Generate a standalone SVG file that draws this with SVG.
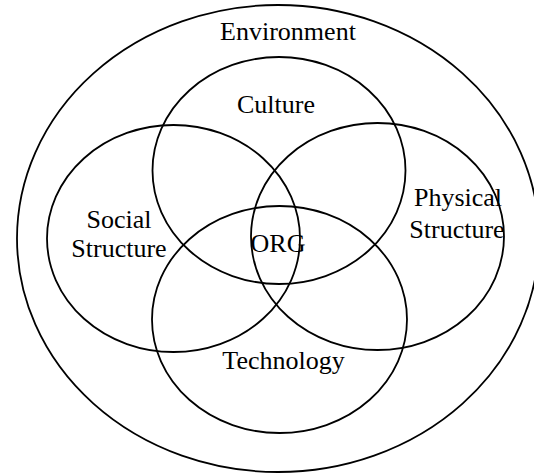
<svg xmlns="http://www.w3.org/2000/svg" width="534" height="474" viewBox="0 0 534 474">
<style>
.s{fill:none;stroke:#000;stroke-width:1.8}
.t{font-family:"Liberation Serif","Times New Roman",serif;font-size:26px;fill:#000;text-anchor:middle}
</style>
<rect width="534" height="474" fill="#fff"/>
<g id="environment">
<ellipse class="s" cx="278" cy="238.5" rx="261" ry="233.5"/>
<text class="t" x="288" y="40">Environment</text>
</g>
<g id="culture">
<ellipse class="s" cx="279" cy="170.5" rx="126.5" ry="113.5"/>
<text class="t" x="276" y="113">Culture</text>
</g>
<g id="social-structure">
<ellipse class="s" cx="173.5" cy="238.5" rx="126.5" ry="113.5"/>
<text class="t" x="119" y="228">Social</text>
<text class="t" x="119" y="257">Structure</text>
</g>
<g id="physical-structure">
<ellipse class="s" cx="377.5" cy="236.5" rx="126.5" ry="113.5"/>
<text class="t" x="458" y="206">Physical</text>
<text class="t" x="457" y="238">Structure</text>
</g>
<g id="technology">
<ellipse class="s" cx="279.5" cy="319.5" rx="127.5" ry="113.5"/>
<text class="t" x="283.5" y="369">Technology</text>
</g>
<g id="org">
<text class="t" x="278" y="252">ORG</text>
</g>
<g id="connectors"/>
</svg>
